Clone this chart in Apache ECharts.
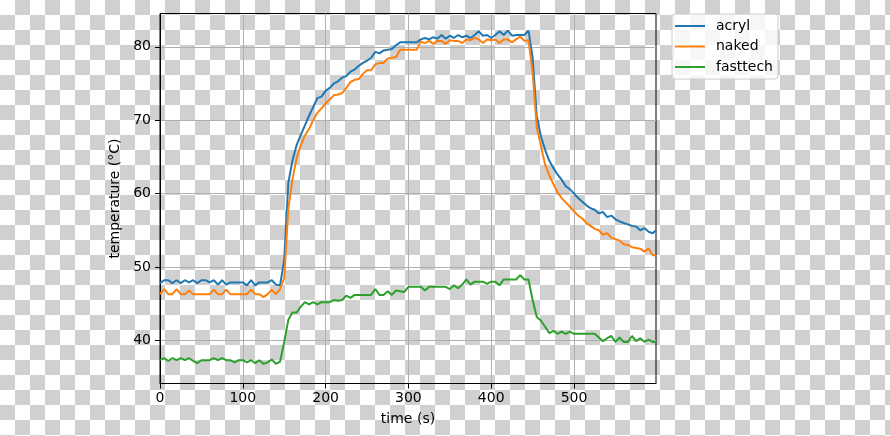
<!DOCTYPE html>
<html>
<head>
<meta charset="utf-8">
<script src="https://cdn.jsdelivr.net/npm/echarts@6/dist/echarts.min.js"></script>
<style>
    html, body {
        margin: 0;
        padding: 0;
        background: repeating-conic-gradient(#d0d0d0 0 25%, #ffffff 0 50%) 0 0 / 30px 30px;
    }
    #chart {
        width: 890px;
        height: 436px;
    }
</style>
</head>
<body>
<div id="chart"></div>
<script>
// time axis (s), one sample every 5 s
var times = [
    0, 5, 10, 15, 20, 25, 30, 35, 40, 45,
    50, 55, 60, 65, 70, 75, 80, 85, 90, 95,
    100, 105, 110, 115, 120, 125, 130, 135, 140, 145,
    150, 155, 160, 165, 170, 175, 180, 185, 190, 195,
    200, 205, 210, 215, 220, 225, 230, 235, 240, 245,
    250, 255, 260, 265, 270, 275, 280, 285, 290, 295,
    300, 305, 310, 315, 320, 325, 330, 335, 340, 345,
    350, 355, 360, 365, 370, 375, 380, 385, 390, 395,
    400, 405, 410, 415, 420, 425, 430, 435, 440, 445,
    450, 455, 460, 465, 470, 475, 480, 485, 490, 495,
    500, 505, 510, 515, 520, 525, 530, 535, 540, 545,
    550, 555, 560, 565, 570, 575, 580, 585, 590, 595,
    599
];

var acryl = [
    47.8, 48.2, 48.2, 47.8, 48.2, 47.8, 48.2, 47.9, 48.2, 47.8,
    48.2, 48.2, 47.9, 48.2, 47.6, 48.2, 47.6, 47.9, 47.9, 47.9,
    47.9, 47.5, 48.2, 47.5, 47.9, 47.9, 47.9, 48.2, 47.6, 47.5,
    51.0, 61.5, 64.5, 66.6, 68.0, 69.3, 70.6, 71.8, 73.0, 73.2,
    74.0, 74.4, 75.0, 75.3, 75.8, 76.0, 76.6, 76.9, 77.4, 77.8,
    78.1, 78.5, 79.3, 79.1, 79.5, 79.6, 79.7, 80.2, 80.6, 80.6,
    80.6, 80.6, 80.6, 81.0, 81.2, 81.0, 81.3, 81.1, 81.6, 81.1,
    81.5, 81.2, 81.6, 81.3, 81.5, 81.2, 81.6, 82.1, 81.5, 81.6,
    81.2, 81.6, 82.1, 81.6, 82.2, 81.5, 81.6, 81.6, 81.6, 82.2,
    78.5, 70.5, 67.8, 66.0, 64.5, 63.5, 62.6, 61.9, 61.0, 60.6,
    60.0, 59.4, 58.9, 58.4, 58.0, 57.8, 57.3, 57.5, 56.8, 57.0,
    56.5, 56.2, 56.0, 55.8, 55.6, 55.5, 55.0, 55.3, 54.8, 54.6,
    55.0
];

var naked = [
    46.3, 47.0, 46.3, 46.3, 47.0, 46.3, 46.3, 46.8, 46.3, 46.3,
    46.3, 46.3, 46.3, 46.9, 46.3, 46.3, 46.9, 46.3, 46.3, 46.3,
    46.3, 46.3, 46.9, 46.3, 46.3, 45.9, 46.3, 46.9, 46.3, 47.0,
    48.5, 58.0, 62.0, 64.8, 66.6, 67.9, 68.8, 70.0, 71.0, 71.6,
    72.3, 72.8, 73.4, 73.5, 73.7, 74.4, 75.2, 75.5, 75.6, 76.3,
    76.8, 76.8, 77.6, 77.8, 77.8, 78.4, 78.5, 78.6, 79.6, 79.6,
    79.6, 79.6, 79.6, 80.7, 80.5, 80.8, 80.4, 80.8, 80.8, 80.4,
    80.9, 80.8, 80.8, 80.5, 81.0, 80.9, 81.2, 81.0, 80.5, 81.0,
    80.9, 81.0, 80.5, 81.0, 81.0, 80.6, 81.0, 81.4, 80.8, 80.9,
    76.5, 69.0, 66.5, 64.0, 62.5, 61.3, 60.2, 59.4, 58.8, 58.2,
    57.6, 57.0, 56.6, 56.0, 55.6, 55.2, 55.0, 54.4, 54.6, 54.0,
    53.8, 53.6, 53.1, 53.0, 52.7, 52.6, 52.5, 52.1, 52.5, 51.6,
    51.6
];

var fasttech = [
    37.3, 37.6, 37.2, 37.6, 37.3, 37.6, 37.3, 37.6, 37.2, 36.9,
    37.3, 37.3, 37.3, 37.6, 37.3, 37.6, 37.3, 37.3, 37.0, 37.3,
    37.3, 37.0, 37.3, 36.9, 37.3, 36.8, 37.0, 37.4, 36.8, 37.1,
    39.8, 42.8, 43.8, 43.8, 44.6, 45.2, 44.9, 45.2, 44.9, 45.2,
    45.2, 45.2, 45.5, 45.4, 45.5, 46.1, 45.8, 46.2, 46.2, 46.2,
    46.2, 46.2, 47.0, 46.2, 46.2, 46.7, 46.2, 46.8, 46.7, 46.6,
    47.3, 47.3, 47.3, 47.3, 46.8, 47.3, 47.3, 47.3, 47.3, 47.3,
    47.0, 47.5, 47.1, 47.6, 48.3, 47.6, 48.0, 48.0, 48.0, 47.7,
    48.0, 48.0, 47.5, 48.3, 48.3, 48.3, 48.3, 48.9, 48.3, 48.3,
    45.5, 43.2, 42.7, 41.9, 41.0, 41.3, 40.9, 41.2, 40.9, 41.2,
    40.9, 40.9, 40.9, 40.9, 40.9, 40.9, 40.4, 39.9, 40.3, 40.6,
    39.8, 40.4, 39.8, 39.8, 40.6, 39.9, 40.3, 39.8, 40.1, 39.8,
    39.8
];

var seriesNames = ['acryl', 'naked', 'fasttech'];
var seriesColors = ['#1f77b4', '#ff7f0e', '#2ca02c'];
var xTicks = [0, 100, 200, 300, 400, 500];
var yTicks = [40, 50, 60, 70, 80];

var font = 'DejaVu Sans';

function pairs(ys) {
    var out = [];
    for (var i = 0; i < times.length; i++) {
        out.push([times[i], ys[i]]);
    }
    return out;
}

var chart = echarts.init(document.getElementById('chart'));

var option = {
    animation: false,
    textStyle: {fontFamily: font},
    grid: {
        left: 160,
        top: 13.5,
        width: 496,
        height: 370,
        show: true,
        borderColor: '#000',
        borderWidth: 1,
        backgroundColor: 'transparent'
    },
    legend: {
        orient: 'vertical',
        left: 672,
        top: 14,
        padding: [4, 5, 4, 3],
        itemGap: 4.5,
        itemWidth: 30,
        itemHeight: 2,
        icon: 'rect',
        backgroundColor: 'rgba(255,255,255,0.8)',
        borderColor: '#cccccc',
        borderWidth: 1,
        borderRadius: 3,
        textStyle: {
            fontFamily: font,
            fontSize: 14,
            color: '#000',
            lineHeight: 16,
            padding: [0, 0, 0, 6]
        },
        data: seriesNames
    },
    xAxis: {
        type: 'value',
        min: 0,
        max: 599,
        name: 'time (s)',
        nameLocation: 'middle',
        nameGap: 29,
        nameTextStyle: {fontFamily: font, fontSize: 14, color: '#000'},
        axisLine: {lineStyle: {color: '#000', width: 1}},
        axisTick: {show: true, length: 5, customValues: xTicks, lineStyle: {color: '#000'}},
        axisLabel: {customValues: xTicks, margin: 8, fontFamily: font, fontSize: 14, color: '#000'},
        splitLine: {show: true, lineStyle: {color: '#b0b0b0', width: 1}}
    },
    yAxis: {
        type: 'value',
        min: 34.13,
        max: 84.53,
        name: 'temperature (°C)',
        nameLocation: 'middle',
        nameRotate: 90,
        nameGap: 28,
        nameTextStyle: {fontFamily: font, fontSize: 14, color: '#000'},
        axisLine: {show: true, lineStyle: {color: '#000', width: 1}},
        axisTick: {show: true, length: 5, customValues: yTicks, lineStyle: {color: '#000'}},
        axisLabel: {customValues: yTicks, margin: 9, fontFamily: font, fontSize: 14, color: '#000'},
        splitLine: {show: true, lineStyle: {color: '#b0b0b0', width: 1}}
    },
    series: [
        {
            name: seriesNames[0],
            type: 'line',
            data: pairs(acryl),
            showSymbol: false,
            lineStyle: {color: seriesColors[0], width: 2},
            itemStyle: {color: seriesColors[0]}
        },
        {
            name: seriesNames[1],
            type: 'line',
            data: pairs(naked),
            showSymbol: false,
            lineStyle: {color: seriesColors[1], width: 2},
            itemStyle: {color: seriesColors[1]}
        },
        {
            name: seriesNames[2],
            type: 'line',
            data: pairs(fasttech),
            showSymbol: false,
            lineStyle: {color: seriesColors[2], width: 2},
            itemStyle: {color: seriesColors[2]}
        }
    ]
};

chart.setOption(option);
</script>
</body>
</html>
